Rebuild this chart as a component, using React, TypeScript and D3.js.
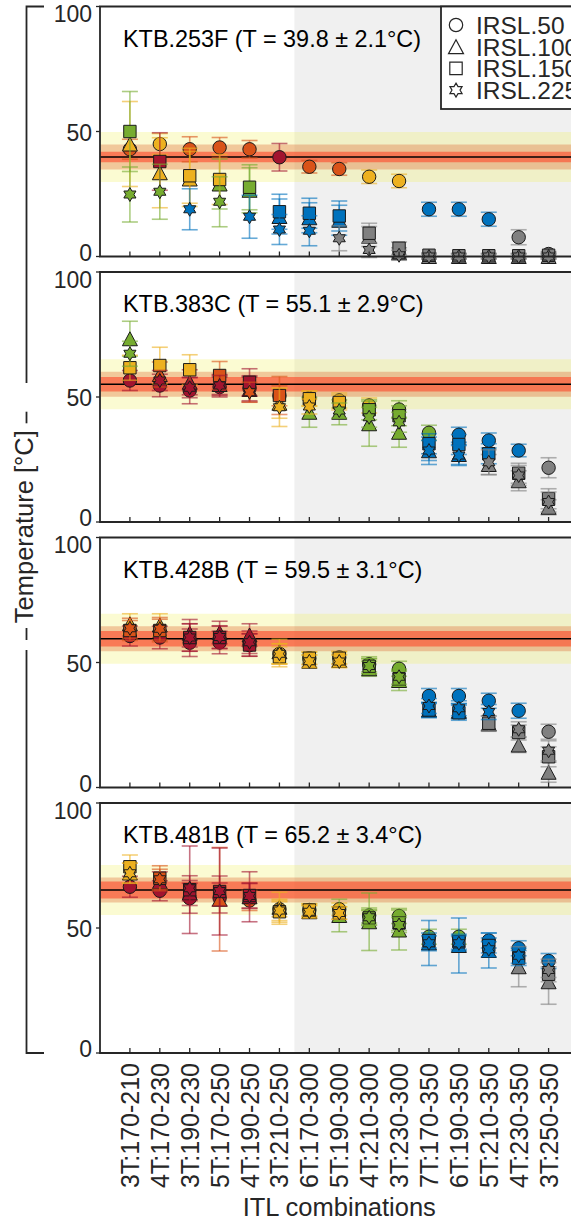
import React from "react";
import * as d3 from "d3";

const categories = ["3T:170-210","4T:170-230","3T:190-230","5T:170-250","4T:190-250","3T:210-250","6T:170-300","5T:190-300","4T:210-300","3T:230-300","7T:170-350","6T:190-350","5T:210-350","4T:230-350","3T:250-350"];
const seriesNames = ["IRSL.50","IRSL.100","IRSL.150","IRSL.225"];
const sampleNames = ["KTB.253F","KTB.383C","KTB.428B","KTB.481B"];
const sampleT = [39.8, 55.1, 59.5, 65.2];
const sampleTErr = [2.1, 2.9, 3.1, 3.4];
const yTicks = [0, 50, 100];

// KTB.253F
const k253F_irsl50 = [42.9, 45.0, 42.9, 43.6, 42.9, 39.7, 35.9, 35.0, 31.9, 30.2, 18.9, 18.9, 14.9, 7.7, 1.0];
const k253F_irsl50Err = [4.0, 4.2, 5.0, 4.0, 3.5, 5.5, 2.5, 2.5, 2.7, 2.7, 2.8, 2.8, 2.8, 3.0, 1.0];
const k253F_irsl100 = [45.0, 33.5, 31.0, 29.0, 26.5, 16.0, 15.5, 14.5, 8.0, 1.5, 0, 0, 0, 0, 0];
const k253F_irsl100Err = [17, 14, 11, 10, 9, 7, 6, 6, 4, 2, 1, 1, 1, 1, 1];
const k253F_irsl150 = [50.0, 38.0, 32.3, 30.8, 27.7, 17.9, 17.3, 16.2, 9.3, 3.3, 0.5, 0.3, 0.3, 0.3, 0.5];
const k253F_irsl150Err = [16, 11.5, 11, 10, 9, 7, 6, 6, 4, 2.5, 1, 1, 1, 1, 1];
const k253F_irsl225 = [24.8, 25.9, 18.9, 21.9, 15.9, 10.8, 10.3, 7.3, 2.6, 0.5, 0, 0, 0, 0, 0];
const k253F_irsl225Err = [11, 11, 8.2, 10, 8.6, 6, 6, 5, 3, 2, 1, 1, 1, 1, 1];

// KTB.383C
const k383C_irsl50 = [56.6, 54.6, 52.6, 54.0, 53.5, 50.5, 49.5, 48.6, 46.6, 45.0, 35.7, 34.9, 32.6, 28.6, 21.7];
const k383C_irsl50Err = [4.0, 4.5, 5.3, 4.0, 5.0, 4.0, 3.0, 3.0, 3.0, 3.5, 3.0, 3.0, 3.0, 2.5, 4.0];
const k383C_irsl100 = [73.3, 59.0, 55.9, 55.0, 53.0, 47.5, 43.9, 43.9, 39.3, 35.9, 28.5, 27.0, 23.0, 16.5, 5.9];
const k383C_irsl100Err = [7, 5, 5, 4, 5, 6, 6, 5, 9, 6, 5.5, 4, 4, 4, 3];
const k383C_irsl150 = [61.7, 62.6, 60.9, 58.6, 55.9, 50.6, 49.3, 47.8, 44.9, 42.5, 31.3, 31.0, 27.3, 19.5, 9.3];
const k383C_irsl150Err = [5, 7.3, 6, 5.6, 5.4, 7.6, 3, 3, 4, 4, 4, 4, 4, 4, 4];
const k383C_irsl225 = [67.3, 56.6, 53.7, 54.6, 51.9, 45.9, 46.2, 44.6, 41.9, 39.9, 28.6, 26.6, 23.9, 18.6, 8.0];
const k383C_irsl225Err = [5, 4, 4, 4, 4, 7.7, 3, 3, 4, 4, 4, 4, 5, 4, 4];

// KTB.428B
const k428B_irsl50 = [60.6, 60.0, 57.9, 58.0, 57.0, 53.5, 51.7, 52.0, 49.3, 47.5, 36.6, 36.6, 34.7, 30.7, 22.3];
const k428B_irsl50Err = [4, 4.5, 5.5, 4.5, 4.5, 4, 2.5, 2.5, 3, 3, 3, 3, 3, 3, 3];
const k428B_irsl100 = [65.5, 65.0, 61.7, 62.0, 61.0, 54.3, 50.5, 50.8, 47.5, 42.8, 31.0, 30.5, 25.5, 17.0, 6.1];
const k428B_irsl100Err = [4, 4.5, 5.5, 4.5, 4.5, 5, 2.5, 2.5, 3, 4, 3, 3, 3, 3, 4];
const k428B_irsl150 = [62.8, 62.8, 60.0, 60.0, 57.0, 52.3, 51.7, 51.7, 48.5, 43.5, 31.0, 29.9, 25.7, 22.0, 12.3];
const k428B_irsl150Err = [4, 4.5, 5.5, 4.5, 4.5, 4, 2.5, 2.5, 3, 3, 3, 3, 3, 3, 4];
const k428B_irsl225 = [63.7, 63.5, 60.0, 60.2, 58.1, 53.5, 50.5, 50.4, 48.6, 44.3, 32.6, 31.7, 30.2, 23.3, 14.7];
const k428B_irsl225Err = [4, 4.5, 5.5, 4.5, 4.5, 4, 2.5, 2.5, 3, 3, 3, 3, 3, 3, 4];

// KTB.481B
const k481B_irsl50 = [66.5, 64.9, 61.9, 62.0, 61.0, 57.5, 57.2, 57.5, 55.0, 54.8, 46.5, 46.5, 45.0, 41.9, 36.8];
const k481B_irsl50Err = [4.2, 4, 6, 6, 4, 3, 2.5, 2.5, 3, 3, 3, 3, 3, 3, 3];
const k481B_irsl100 = [72.0, 68.5, 64.0, 61.5, 62.5, 58.3, 56.5, 55.0, 52.5, 49.2, 44.0, 43.0, 41.0, 34.5, 28.5];
const k481B_irsl100Err = [4, 4, 5, 20.7, 10, 6, 2.5, 6.5, 11.5, 8, 9, 11, 7, 8, 9];
const k481B_irsl150 = [74.5, 69.9, 65.3, 64.6, 63.0, 56.5, 57.2, 56.0, 54.0, 52.0, 45.0, 44.5, 43.0, 38.0, 31.5];
const k481B_irsl150Err = [4.7, 5, 17.5, 17.4, 5, 5, 2.5, 2.5, 3, 3, 3, 3, 3, 3, 3];
const k481B_irsl225 = [71.9, 69.5, 65.9, 64.8, 62.8, 57.0, 56.5, 56.0, 54.3, 51.2, 43.9, 43.9, 41.5, 38.9, 33.2];
const k481B_irsl225Err = [4, 4, 5, 6, 5, 4, 2.5, 2.5, 3, 3, 3, 3, 3, 3, 3];

const panels = [
  { values: [k253F_irsl50, k253F_irsl100, k253F_irsl150, k253F_irsl225], errors: [k253F_irsl50Err, k253F_irsl100Err, k253F_irsl150Err, k253F_irsl225Err] },
  { values: [k383C_irsl50, k383C_irsl100, k383C_irsl150, k383C_irsl225], errors: [k383C_irsl50Err, k383C_irsl100Err, k383C_irsl150Err, k383C_irsl225Err] },
  { values: [k428B_irsl50, k428B_irsl100, k428B_irsl150, k428B_irsl225], errors: [k428B_irsl50Err, k428B_irsl100Err, k428B_irsl150Err, k428B_irsl225Err] },
  { values: [k481B_irsl50, k481B_irsl100, k481B_irsl150, k481B_irsl225], errors: [k481B_irsl50Err, k481B_irsl100Err, k481B_irsl150Err, k481B_irsl225Err] },
];

const FONT = "'Liberation Sans', Arial, Helvetica, sans-serif";
const palette = ["#A2142F", "#D95319", "#EDB120", "#77AC30", "#0072BD", "#808080"];
const AX = "#262626";

function pointColor(v: number, T: number, s: number) {
  const d = Math.abs(v - T);
  if (d <= s) return palette[0];
  const sc = d3.scaleThreshold<number, string>().domain([5, 10, 20, 30]).range(palette.slice(1));
  return sc(d);
}

function markerPath(k: number): string {
  if (k === 0) return d3.symbol(d3.symbolCircle, Math.PI * 6.7 * 6.7)() as string;
  if (k === 1) {
    const w = 15, h = 14;
    return `M0,${-h / 2}L${w / 2},${h / 2}L${-w / 2},${h / 2}Z`;
  }
  if (k === 2) {
    const a = 6.2;
    return `M${-a},${-a}H${a}V${a}H${-a}Z`;
  }
  const R = 7, r = R / Math.sqrt(3);
  const pts: [number, number][] = [];
  for (let i = 0; i < 12; i++) {
    const ang = -Math.PI / 2 + (i * Math.PI) / 6;
    const rad = i % 2 === 0 ? R : r;
    pts.push([rad * Math.cos(ang), rad * Math.sin(ang)]);
  }
  return (d3.line()(pts) as string) + "Z";
}

const xScale = d3.scaleLinear().domain([-1, 15]).range([100, 578.5]);
const panelTop = [6.5, 272, 537.5, 803];
const panelH = 250;

function Panel({ p }: { p: number }) {
  const top = panelTop[p];
  const bottom = top + panelH;
  const y = d3.scaleLinear().domain([0, 100]).range([bottom, top]);
  const T = sampleT[p], s = sampleTErr[p];
  const x0 = xScale(-1), x1 = xScale(15);
  const data = panels[p];
  return (
    <g>
      <rect x={xScale(5.5)} y={top} width={x1 - xScale(5.5)} height={panelH} fill="#f0f0f0" />
      <rect x={x0} y={y(T + 10)} width={x1 - x0} height={y(T - 10) - y(T + 10)} fill="#f2f26a" opacity={0.3} />
      <rect x={x0} y={y(T + 5)} width={x1 - x0} height={y(T - 5) - y(T + 5)} fill="#d95319" opacity={0.3} />
      <rect x={x0} y={y(T + s)} width={x1 - x0} height={y(T - s) - y(T + s)} fill="#ff3b1f" opacity={0.55} />
      <line x1={x0} x2={x1} y1={y(T)} y2={y(T)} stroke="#000" strokeWidth={1.6} />
      {data.values.map((vals, k) => (
        <g key={k}>
          {vals.map((v, i) => {
            const e = data.errors[k][i];
            const cx = xScale(i);
            const c = pointColor(v, T, s);
            return (
              <g key={i} stroke={c} strokeOpacity={0.6} strokeWidth={1.6}>
                <line x1={cx} x2={cx} y1={y(v + e)} y2={y(v - e)} />
                <line x1={cx - 8} x2={cx + 8} y1={y(v + e)} y2={y(v + e)} />
                <line x1={cx - 8} x2={cx + 8} y1={y(v - e)} y2={y(v - e)} />
              </g>
            );
          })}
          {vals.map((v, i) => (
            <path key={"m" + i} d={markerPath(k)} transform={`translate(${xScale(i)},${y(v)})`}
              fill={pointColor(v, T, s)} stroke="#1a1a1a" strokeWidth={1} />
          ))}
        </g>
      ))}
      <path d={`M${x1},${top}H${x0}V${bottom}H${x1}`} fill="none" stroke={AX} strokeWidth={1.8} />
      {categories.map((c, i) => (
        <line key={c} x1={xScale(i)} x2={xScale(i)} y1={bottom} y2={bottom - 5} stroke={AX} strokeWidth={1.3} />
      ))}
      {yTicks.map((t) => (
        <g key={t}>
          <line x1={x0} x2={x0 - 4} y1={y(t)} y2={y(t)} stroke={AX} strokeWidth={1.3} />
          <text x={92} y={Math.min(Math.max(y(t) + 1, top + 7.7), bottom - 4)} dy="0.35em" textAnchor="end"
            fontSize={23} fontFamily={FONT} fill={AX}>{t}</text>
        </g>
      ))}
      <text x={123} y={top + 40} fontSize={23.4} fontFamily={FONT} fill="#000">
        {`${sampleNames[p]} (T = ${T.toFixed(1)} ± ${s.toFixed(1)}°C)`}
      </text>
    </g>
  );
}

export default function App() {
  const lastBottom = panelTop[3] + panelH;
  return (
    <svg width={571} height={1222} style={{ position: "absolute", left: 0, top: 0, background: "#fff" }}>
      <rect width={571} height={1222} fill="#fff" />
      {panelTop.map((_, p) => <Panel key={p} p={p} />)}
      <g>
        <rect x={441} y={6.5} width={200} height={102.5} fill="#fff" stroke={AX} strokeWidth={1.8} />
        {seriesNames.map((n, k) => (
          <g key={n}>
            <path d={markerPath(k)} transform={`translate(456,${25 + k * 21.7})`} fill="#fff" stroke={AX} strokeWidth={1.2} />
            <text x={476} y={25 + k * 21.7} dy="0.36em" fontSize={24.5} fontFamily={FONT} fill={AX}>{n}</text>
          </g>
        ))}
      </g>
      {categories.map((c, i) => (
        <text key={c} transform={`translate(${xScale(i)},${lastBottom + 10}) rotate(-90)`} dy="0.36em" textAnchor="end"
          fontSize={25} fontFamily={FONT} fill={AX}>{c}</text>
      ))}
      <text x={(xScale(-1) + xScale(15)) / 2} y={1216} textAnchor="middle" fontSize={25.5} fontFamily={FONT} fill={AX}>ITL combinations</text>
      <g stroke={AX} strokeWidth={1.8} fill="none">
        <path d={`M44,6.5H26.5V383`} />
        <path d={`M26.5,411.7V423.3`} />
        <path d={`M26.5,628V640`} />
        <path d={`M26.5,650V${lastBottom}H44`} />
      </g>
      <text transform={`translate(33,526.7) rotate(-90)`} textAnchor="middle" fontSize={25.5} fontFamily={FONT} fill={AX}>Temperature [°C]</text>
    </svg>
  );
}
